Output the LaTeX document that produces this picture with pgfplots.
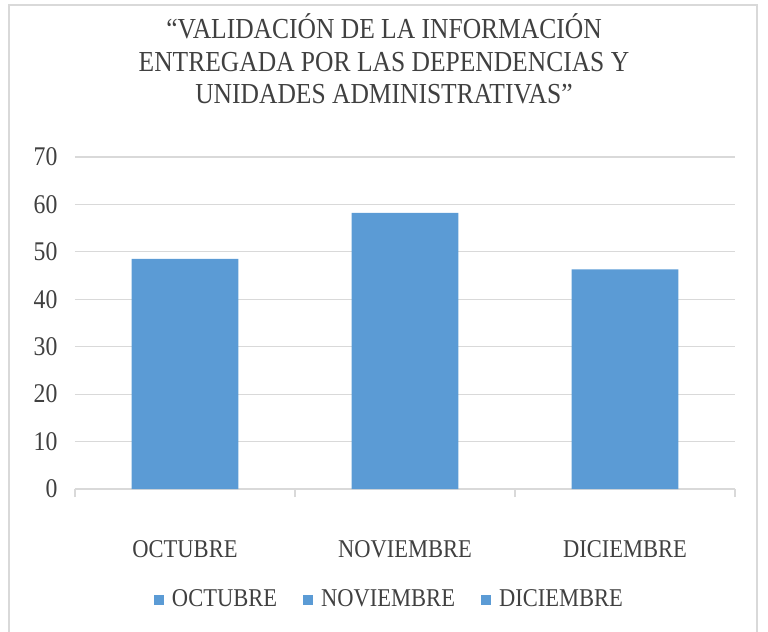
\documentclass[border=0pt]{standalone}
\usepackage{fontspec}
\setmainfont[FakeStretch=0.88]{Liberation Serif}
\usepackage{pgfplots}
\pgfplotsset{compat=1.18}
\definecolor{barblue}{RGB}{91,155,213}
\definecolor{txt}{RGB}{64,64,64}
\definecolor{gridc}{RGB}{217,217,217}
\begin{document}
\begin{tikzpicture}
\useasboundingbox (0,0) rectangle (384pt,-316pt);
\draw[gridc, line width=0.6pt] (4.5pt,-316pt) -- (4.5pt,-2.5pt) -- (378.5pt,-2.5pt) -- (378.5pt,-316pt);
\node[align=center, text=txt, font=\fontsize{14.5}{16.3}\selectfont] at (192pt,-29.5pt)
  {“VALIDACIÓN DE LA INFORMACIÓN\\ENTREGADA POR LAS DEPENDENCIAS Y\\UNIDADES ADMINISTRATIVAS”};
\begin{axis}[
  at={(37.5pt,-244.5pt)}, anchor=south west,
  width=330pt, height=166pt, scale only axis,
  xmin=-0.5, xmax=2.5, ymin=0, ymax=70,
  ytick={0,10,...,70},
  xtick={0,1,2},
  xticklabels={OCTUBRE,NOVIEMBRE,DICIEMBRE},
  minor xtick={-0.5,0.5,1.5,2.5},
  axis x line*=bottom, axis y line*=left,
  y axis line style={draw=none},
  x axis line style={gridc, line width=0.6pt},
  ymajorgrids, grid style={gridc, line width=0.6pt},
  major x tick style={draw=none},
  ytick style={draw=none},
  minor x tick style={gridc, line width=0.6pt},
  tick align=outside, minor tick length=4pt,
  tick label style={text=txt, font=\fontsize{12.8}{15}\selectfont},
  y tick label style={anchor=east, xshift=-1pt, font=\fontsize{13.5}{15}\selectfont},
  x tick label style={yshift=-18pt},
  /pgf/number format/assume math mode=true,
  legend style={at={(0.478,-0.334)}, anchor=center, draw=none, fill=none,
    legend columns=3, font=\fontsize{12.8}{15}\selectfont, text=txt,
    /tikz/every odd column/.append style={column sep=2pt},
    /tikz/every even column/.append style={column sep=11pt}},
  legend image code/.code={\fill[barblue] (0pt,-2.3pt) rectangle (4.6pt,2.3pt);},
]
\addplot[ybar, bar width=0.486, fill=barblue, draw=none, forget plot]
  coordinates {(0,48.5) (1,58.2) (2,46.3)};
\addlegendimage{barblue}
\addlegendimage{barblue}
\addlegendimage{barblue}
\legend{OCTUBRE,NOVIEMBRE,DICIEMBRE}
\end{axis}
\end{tikzpicture}
\end{document}
